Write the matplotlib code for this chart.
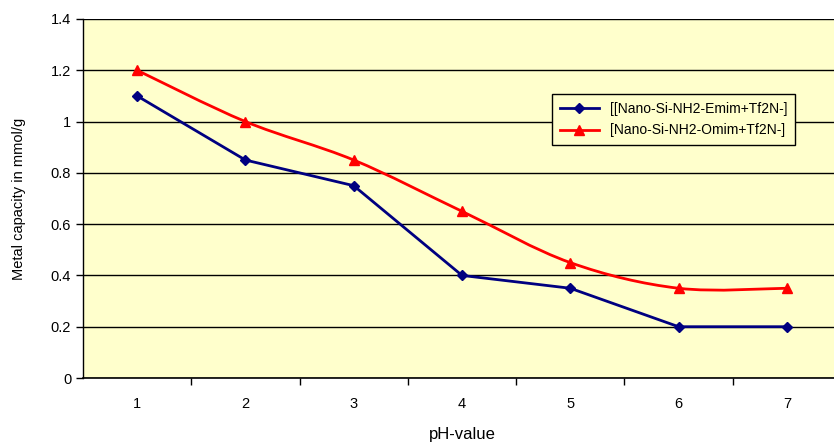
import numpy as np
import matplotlib.pyplot as plt
from matplotlib.path import Path
from matplotlib.patches import PathPatch

plt.rcParams['font.family'] = ['Liberation Sans', 'DejaVu Sans']

ph = [1, 2, 3, 4, 5, 6, 7]
emim = [1.1, 0.85, 0.75, 0.4, 0.35, 0.2, 0.2]
omim = [1.2, 1.0, 0.85, 0.65, 0.45, 0.35, 0.35]

label_emim = '[[Nano-Si-NH2-Emim+Tf2N-]'
label_omim = '[Nano-Si-NH2-Omim+Tf2N-]'

bg = '#FFFFCC'


def smooth_path(x, y, t=1/6):
    # Excel-like smoothed line: cubic bezier through the points
    x = np.asarray(x, float)
    y = np.asarray(y, float)
    verts = [(x[0], y[0])]
    codes = [Path.MOVETO]
    n = len(x)
    for i in range(n - 1):
        x0, y0 = (x[i - 1], y[i - 1]) if i > 0 else (x[i], y[i])
        x3, y3 = (x[i + 2], y[i + 2]) if i + 2 < n else (x[i + 1], y[i + 1])
        c1 = (x[i] + (x[i + 1] - x0) * t, y[i] + (y[i + 1] - y0) * t)
        c2 = (x[i + 1] - (x3 - x[i]) * t, y[i + 1] - (y3 - y[i]) * t)
        verts += [c1, c2, (x[i + 1], y[i + 1])]
        codes += [Path.CURVE4] * 3
    return Path(verts, codes)


fig = plt.figure(figsize=(8.34, 4.43), dpi=100)
ax = fig.add_axes([83 / 834, 65 / 443, 758 / 834, 359 / 443])
ax.set_facecolor(bg)

ax.set_xlim(0.5, 7.5)
ax.set_ylim(0, 1.4)
ax.set_yticks(np.arange(0, 1.41, 0.2))
ax.set_yticklabels(['0', '0.2', '0.4', '0.6', '0.8', '1', '1.2', '1.4'])
ax.yaxis.grid(True, color='black', linewidth=1)
ax.set_axisbelow(True)

ax.set_xticks(ph)
ax.set_xticks(np.arange(1.5, 7.5, 1), minor=True)
ax.tick_params(axis='x', which='major', length=0, pad=14, labelsize=10.5)
ax.tick_params(axis='x', which='minor', length=5, width=1, direction='out')
ax.tick_params(axis='y', length=5, width=1, direction='out', labelsize=10.5)

for s in ['top', 'right']:
    ax.spines[s].set_visible(False)
ax.spines['left'].set_linewidth(1)
ax.spines['bottom'].set_linewidth(1.2)

# blue series: straight segments
ax.plot(ph, emim, color='#000080', linewidth=2, marker='D', markersize=5,
        label=label_emim, zorder=3)

# red series: smoothed curve
ax.add_patch(PathPatch(smooth_path(ph, omim), facecolor='none',
                       edgecolor='#FF0000', linewidth=2, zorder=3))
ax.plot(ph, omim, color='#FF0000', linewidth=2, linestyle='None', marker='^',
        markersize=7, zorder=4)
ax.plot([], [], color='#FF0000', linewidth=2, marker='^', markersize=7,
        label=label_omim)

leg = ax.legend(loc='upper left', bbox_to_anchor=(0.61, 0.81), fontsize=10,
                frameon=True, fancybox=False, facecolor=bg, edgecolor='black',
                framealpha=1, borderpad=0.55, handlelength=2.8, labelspacing=0.55)
leg.get_frame().set_linewidth(1)

ax.set_ylabel('Metal capacity in mmol/g', fontsize=10.5, labelpad=18)
ax.set_xlabel('pH-value', fontsize=12, labelpad=11)

fig.savefig('out.png', dpi=100)
